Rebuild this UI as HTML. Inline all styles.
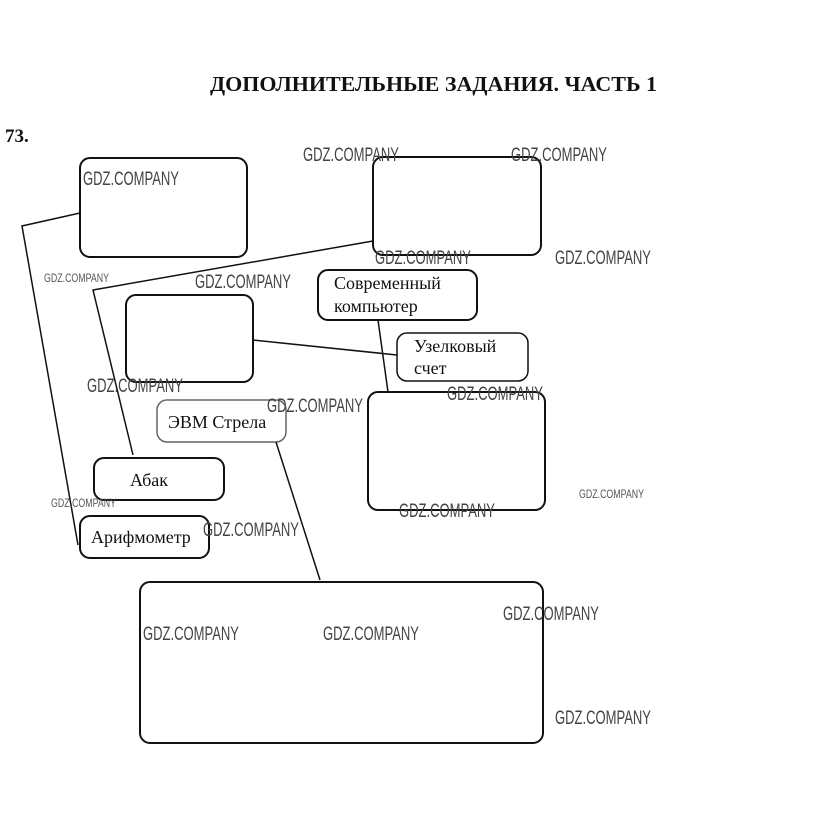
<!DOCTYPE html>
<html><head><meta charset="utf-8"><style>
html,body{margin:0;padding:0;background:#fff;width:815px;height:840px;overflow:hidden}
svg{display:block}
.wm{font-family:"Liberation Sans Narrow","Liberation Sans",sans-serif;fill:#444;font-size:19px}
.wms{font-family:"Liberation Sans Narrow","Liberation Sans",sans-serif;fill:#555;font-size:12px}
.lbl{font-family:"Liberation Serif",serif;font-size:18px;fill:#111}
</style></head><body>
<svg width="815" height="840" viewBox="0 0 815 840" xmlns="http://www.w3.org/2000/svg">
<text x="210" y="91" textLength="447" lengthAdjust="spacingAndGlyphs" font-family="Liberation Serif,serif" font-weight="bold" font-size="21" fill="#111">ДОПОЛНИТЕЛЬНЫЕ ЗАДАНИЯ. ЧАСТЬ 1</text>
<text x="5" y="142" font-family="Liberation Serif,serif" font-weight="bold" font-size="19" fill="#111">73.</text>
<g fill="none" stroke="#111" stroke-width="2">
<rect x="80" y="158" width="167" height="99" rx="10"/>
<rect x="373" y="157" width="168" height="98" rx="10"/>
<rect x="318" y="270" width="159" height="50" rx="10"/>
<rect x="126" y="295" width="127" height="87" rx="10"/>
<rect x="397" y="333" width="131" height="48" rx="10" stroke-width="1.5"/>
<rect x="157" y="400" width="129" height="42" rx="10" stroke="#666" stroke-width="1.5"/>
<rect x="368" y="392" width="177" height="118" rx="10"/>
<rect x="94" y="458" width="130" height="42" rx="10"/>
<rect x="80" y="516" width="129" height="42" rx="10"/>
<rect x="140" y="582" width="403" height="161" rx="10"/>
</g>
<g fill="none" stroke="#111" stroke-width="1.5">
<polyline points="80,213 22,226 78,545"/>
<polyline points="373,241 93,290 133,455"/>
<line x1="253" y1="340" x2="397" y2="355"/>
<line x1="378" y1="320" x2="388" y2="392"/>
<line x1="276" y1="442" x2="320" y2="580"/>
</g>
<text class="lbl" x="334" y="289">Современный</text>
<text class="lbl" x="334" y="312">компьютер</text>
<text class="lbl" x="414" y="352">Узелковый</text>
<text class="lbl" x="414" y="374">счет</text>
<text class="lbl" x="168" y="428" fill="#888">ЭВМ Стрела</text>
<text class="lbl" x="130" y="486">Абак</text>
<text class="lbl" x="91" y="543">Арифмометр</text>
<g class="wm">
<text x="83" y="185" textLength="96" lengthAdjust="spacingAndGlyphs">GDZ.COMPANY</text>
<text x="303" y="161" textLength="96" lengthAdjust="spacingAndGlyphs">GDZ.COMPANY</text>
<text x="511" y="161" textLength="96" lengthAdjust="spacingAndGlyphs">GDZ.COMPANY</text>
<text x="375" y="264" textLength="96" lengthAdjust="spacingAndGlyphs">GDZ.COMPANY</text>
<text x="555" y="264" textLength="96" lengthAdjust="spacingAndGlyphs">GDZ.COMPANY</text>
<text x="195" y="288" textLength="96" lengthAdjust="spacingAndGlyphs">GDZ.COMPANY</text>
<text x="87" y="392" textLength="96" lengthAdjust="spacingAndGlyphs">GDZ.COMPANY</text>
<text x="267" y="412" textLength="96" lengthAdjust="spacingAndGlyphs">GDZ.COMPANY</text>
<text x="447" y="400" textLength="96" lengthAdjust="spacingAndGlyphs">GDZ.COMPANY</text>
<text x="399" y="517" textLength="96" lengthAdjust="spacingAndGlyphs">GDZ.COMPANY</text>
<text x="203" y="536" textLength="96" lengthAdjust="spacingAndGlyphs">GDZ.COMPANY</text>
<text x="503" y="620" textLength="96" lengthAdjust="spacingAndGlyphs">GDZ.COMPANY</text>
<text x="143" y="640" textLength="96" lengthAdjust="spacingAndGlyphs">GDZ.COMPANY</text>
<text x="323" y="640" textLength="96" lengthAdjust="spacingAndGlyphs">GDZ.COMPANY</text>
<text x="555" y="724" textLength="96" lengthAdjust="spacingAndGlyphs">GDZ.COMPANY</text>
</g>
<g class="wms">
<text x="44" y="282" textLength="65" lengthAdjust="spacingAndGlyphs">GDZ.COMPANY</text>
<text x="51" y="507" textLength="65" lengthAdjust="spacingAndGlyphs">GDZ.COMPANY</text>
<text x="579" y="498" textLength="65" lengthAdjust="spacingAndGlyphs">GDZ.COMPANY</text>
</g>
</svg>
</body></html>
